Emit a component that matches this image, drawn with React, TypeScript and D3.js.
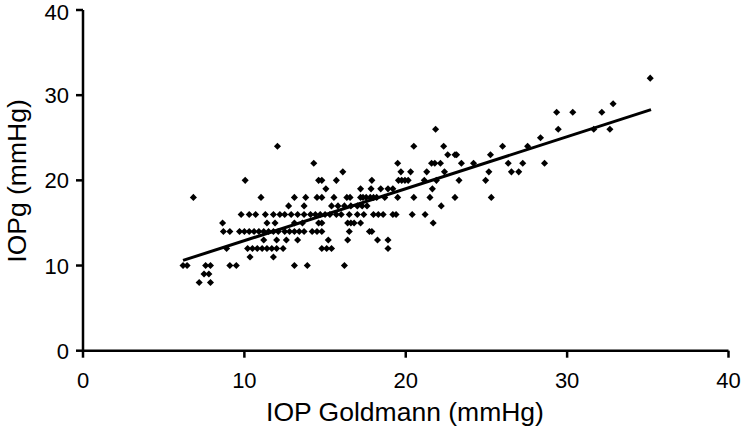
import React from "react";
import * as d3 from "d3";

// Scatter data, grouped by IOPg value (mmHg)
const iopgLevels = [32, 29, 28, 26, 25, 24, 23, 22, 21, 20, 19, 18, 17, 16, 15, 14, 13, 12, 11, 10, 9, 8];
const goldmannByLevel: number[][] = [
  [35.15],
  [32.85],
  [29.35, 30.35, 32.15],
  [21.85, 29.45, 31.65, 32.65],
  [28.35],
  [12.05, 20.5, 22.35, 26.0, 27.55],
  [22.6, 23.05, 23.15, 25.25],
  [14.3, 19.5, 21.6, 21.8, 22.15, 23.45, 24.2, 26.35, 27.25, 28.6],
  [16.1, 19.7, 20.3, 21.3, 22.4, 25.15, 26.55, 27.0],
  [10.05, 14.6, 14.8, 15.7, 17.9, 19.55, 19.75, 19.95, 20.15, 21.15, 21.9, 23.3, 24.95],
  [15.05, 17.2, 17.85, 18.45, 18.9, 19.2, 21.65],
  [6.84, 11.03, 13.1, 13.8, 14.5, 14.8, 15.55, 16.35, 16.55, 17.2, 17.35, 17.55, 17.8, 18.0, 18.2, 18.7, 19.5, 20.5, 21.5, 23.05, 25.3],
  [12.74, 13.7, 15.4, 15.8, 16.2, 16.6, 17.0, 17.3, 17.6, 22.2],
  [9.8, 10.3, 10.7, 11.3, 11.8, 12.2, 12.5, 12.9, 13.3, 13.7, 14.1, 14.4, 14.7, 15.0, 15.3, 15.7, 16.0, 16.5, 17.0, 17.4, 18.0, 18.3, 18.6, 19.2, 19.4, 20.4, 21.2],
  [8.65, 11.4, 11.9, 13.1, 13.6, 14.6, 14.8, 16.4, 16.6, 16.8, 17.2, 21.7],
  [8.7, 9.1, 9.7, 10.0, 10.3, 10.6, 10.9, 11.2, 11.5, 11.8, 12.1, 12.5, 12.8, 13.1, 13.4, 13.7, 14.2, 14.5, 14.8, 16.5, 17.75, 17.9],
  [11.2, 12.0, 12.6, 13.3, 15.2, 16.4, 18.25, 18.9],
  [8.9, 10.2, 10.5, 10.8, 11.1, 11.4, 11.7, 12.0, 12.4, 14.8, 15.1, 15.4, 18.9],
  [10.35, 11.8],
  [6.2, 6.45, 7.6, 7.9, 9.1, 9.5, 13.1, 13.9, 16.2],
  [7.5, 7.8],
  [7.2, 7.9],
];

// Regression line endpoints
const fitX = [6.2, 35.2];
const fitY = [10.6, 28.3];

const xTicks = [0, 10, 20, 30, 40];
const yTicks = [0, 10, 20, 30, 40];
const xTitle = "IOP Goldmann (mmHg)";
const yTitle = "IOPg (mmHg)";

export default function App() {
  const W = 742, H = 434;
  const x = d3.scaleLinear().domain([0, 40]).range([83, 728.5]);
  const y = d3.scaleLinear().domain([0, 40]).range([350.7, 10]);
  const points: { gx: number; gy: number }[] = [];
  iopgLevels.forEach((lv, i) => goldmannByLevel[i].forEach((g) => points.push({ gx: g, gy: lv })));
  const diamond = d3.symbol().type(d3.symbolDiamond2).size(32)()!;
  const line = d3.line<number>().x((d) => x(d)).y((_, i) => y(fitY[i]));
  const font = "Liberation Sans, Arial, Helvetica, sans-serif";
  const tickFs = 22;
  return (
    <svg width={W} height={H} style={{ position: "absolute", left: 0, top: 0, background: "#fff" }} fontFamily={font}>
      <rect width={W} height={H} fill="#fff" />
      {/* axes */}
      <line x1={x(0)} x2={x(40)} y1={y(0)} y2={y(0)} stroke="#000" strokeWidth={2.5} />
      <line x1={x(0)} x2={x(0)} y1={y(0)} y2={y(40)} stroke="#000" strokeWidth={2.5} />
      {xTicks.map((t) => (
        <g key={"x" + t}>
          <line x1={x(t)} x2={x(t)} y1={y(0)} y2={y(0) + 7} stroke="#000" strokeWidth={2.5} />
          <text x={x(t)} y={388} textAnchor="middle" fontSize={tickFs} fill="#000">{t}</text>
        </g>
      ))}
      {yTicks.map((t) => (
        <g key={"y" + t}>
          <line x1={x(0) - 7} x2={x(0)} y1={y(t)} y2={y(t)} stroke="#000" strokeWidth={2.5} />
          <text x={69} y={Math.max(y(t) + 8, tickFs * 0.92)} textAnchor="end" fontSize={tickFs} fill="#000">{t}</text>
        </g>
      ))}
      <text x={405} y={421} textAnchor="middle" fontSize={26.5} fill="#000">{xTitle}</text>
      <text transform={`translate(26,181) rotate(-90)`} textAnchor="middle" fontSize={26.5} fill="#000">{yTitle}</text>
      {/* points */}
      {points.map((p, i) => (
        <path key={i} d={diamond} transform={`translate(${x(p.gx)},${y(p.gy)})`} fill="#000" />
      ))}
      {/* regression line */}
      <path d={line(fitX)!} stroke="#000" strokeWidth={3} fill="none" />
    </svg>
  );
}
